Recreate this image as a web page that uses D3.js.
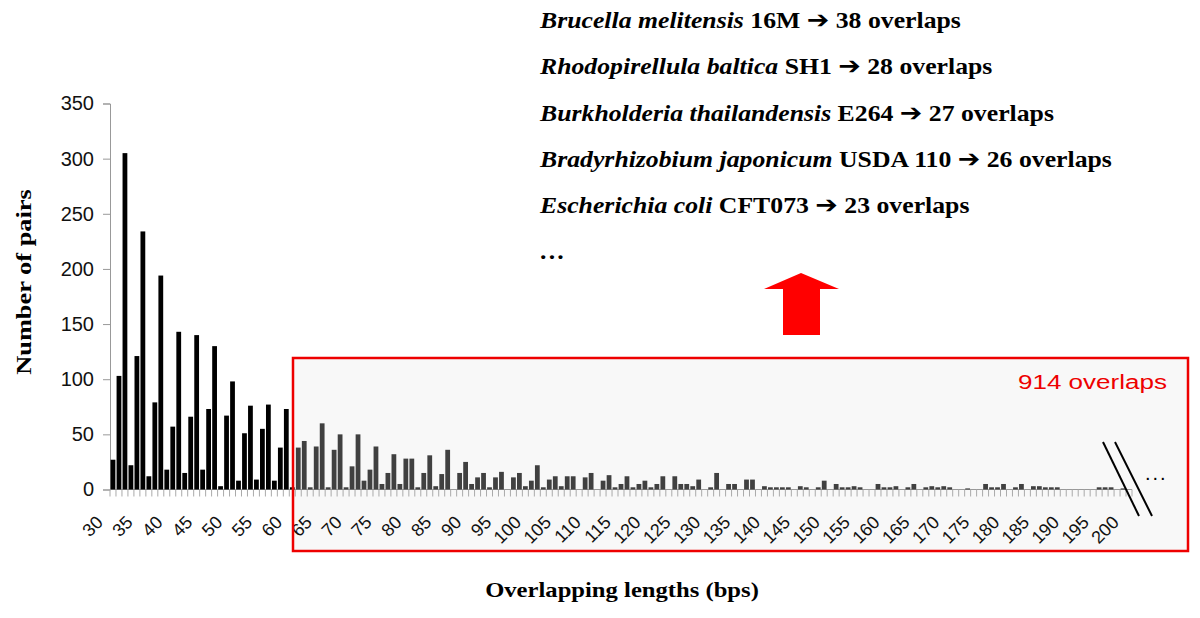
<!DOCTYPE html>
<html>
<head>
<meta charset="utf-8">
<script src="https://cdn.jsdelivr.net/npm/d3@7"></script>
<style>
  body { margin: 0; background: #fff; }
  svg { display: block; }
  .tick text { fill: #111; }
</style>
</head>
<body>
<div id="chart"></div>
<script>
// data
var lengths = d3.range(30, 201);
var pairs = [
  27, 103, 305, 22, 121, 234, 12, 79, 194, 18,      // 30-39
  57, 143, 15, 66, 140, 18, 73, 130, 3, 67,         // 40-49
  98, 8, 51, 76, 9, 55, 77, 8, 38, 73,              // 50-59
  2, 38, 44, 2, 39, 60, 2, 36, 50, 2,               // 60-69
  21, 50, 8, 18, 39, 5, 15, 32, 5, 28,              // 70-79
  28, 2, 15, 31, 3, 14, 36, 0, 15, 25,              // 80-89
  5, 11, 15, 2, 11, 16, 0, 11, 15, 3,               // 90-99
  8, 22, 2, 9, 12, 3, 12, 12, 0, 11,                // 100-109
  15, 0, 8, 13, 2, 5, 12, 2, 5, 8,                  // 110-119
  2, 5, 12, 0, 12, 5, 5, 3, 9, 0,                   // 120-129
  2, 15, 0, 5, 5, 0, 9, 9, 0, 3,                    // 130-139
  2, 2, 2, 2, 0, 3, 2, 0, 2, 8,                     // 140-149
  0, 5, 2, 2, 3, 2, 0, 0, 5, 2,                     // 150-159
  2, 3, 0, 2, 5, 0, 2, 3, 2, 3,                     // 160-169
  2, 0, 0, 1, 0, 0, 5, 2, 2, 5,                     // 170-179
  0, 2, 5, 0, 3, 3, 2, 2, 2, 0,                     // 180-189
  0, 0, 0, 0, 0, 2, 2, 2, 0, 1,                     // 190-199
  0                                                 // 200
];
var yTicks = [0, 50, 100, 150, 200, 250, 300, 350];
var labelTicks = lengths.filter(d => d % 5 === 0);
var highlightFrom = 61;

var genomes = [
  {species: 'Brucella melitensis', strain: '16M', count: 38},
  {species: 'Rhodopirellula baltica', strain: 'SH1', count: 28},
  {species: 'Burkholderia thailandensis', strain: 'E264', count: 27},
  {species: 'Bradyrhizobium japonicum', strain: 'USDA 110', count: 26},
  {species: 'Escherichia coli', strain: 'CFT073', count: 23}
];
var boxLabel = '914 overlaps';

// constants
const WIDTH = 1200;
const HEIGHT = 618;
const X0 = 110, X1 = 1132;
const Y0 = 489.5, Y1 = 103.5;
const SERIF = 'Liberation Serif, Times New Roman, serif';
const SANS = 'Liberation Sans, Arial, sans-serif';

// the figure text is a bit wider than it is tall, stretch it around its x anchor
function stretch(x, sx) {
  return 'translate(' + x + ',0) scale(' + sx + ',1) translate(' + (-x) + ',0)';
}

var svg = d3.select('#chart').append('svg')
            .attr('width', WIDTH)
            .attr('height', HEIGHT);

var x = d3.scaleBand()
          .domain(lengths)
          .range([X0, X1])
          .paddingInner(0.2)
          .paddingOuter(0.1);

var y = d3.scaleLinear()
          .domain([0, 350])
          .range([Y0, Y1]);

// highlighted region (fill first, outline goes on top later)
svg.append('rect')
   .attr('x', 293)
   .attr('y', 358)
   .attr('width', 895)
   .attr('height', 193)
   .attr('fill', '#f8f8f8');

// y axis
var yAxis = svg.append('g')
               .attr('transform', 'translate(' + X0 + ',0)')
               .call(d3.axisLeft(y).tickValues(yTicks).tickSize(7).tickPadding(9));
yAxis.select('.domain').attr('stroke', '#999');
yAxis.selectAll('.tick line').attr('stroke', '#999');
yAxis.selectAll('.tick text')
     .attr('font-family', SANS)
     .attr('font-size', 20);

// x axis: boundary ticks between every category
var half = x.step() * x.paddingInner() / 2;
var bounds = lengths.map(d => x(d) - half).concat([x(200) + x.bandwidth() + half]);
var xAxis = svg.append('g')
               .attr('transform', 'translate(0,' + Y0 + ')');
xAxis.append('line')
     .attr('x1', X0)
     .attr('x2', X1)
     .attr('stroke', '#999');
xAxis.selectAll('line.bound').data(bounds)
     .enter()
     .append('line')
     .classed('bound', true)
     .attr('x1', d => d)
     .attr('x2', d => d)
     .attr('y1', 0)
     .attr('y2', 7)
     .attr('stroke', '#aaa');

// rotated labels every 5 bps
var xLabels = svg.append('g')
                 .attr('transform', 'translate(-9,' + (Y0 + 34) + ')')
                 .call(d3.axisBottom(x).tickValues(labelTicks).tickSize(0).tickPadding(0));
xLabels.select('.domain').remove();
xLabels.selectAll('.tick text')
       .attr('font-family', SANS)
       .attr('font-size', 18)
       .attr('fill', d => d >= 65 ? '#444' : '#111')
       .attr('text-anchor', 'end')
       .attr('dy', 0)
       .attr('transform', 'rotate(-45)');

// bars
svg.append('g').selectAll('rect')
   .data(lengths.map((d, i) => ({len: d, n: pairs[i]})).filter(d => d.n > 0))
   .enter()
   .append('rect')
   .attr('x', d => x(d.len))
   .attr('width', x.bandwidth())
   .attr('y', d => y(d.n))
   .attr('height', d => Y0 - y(d.n))
   .attr('fill', d => d.len >= highlightFrom ? '#404040' : '#000');

// outline of highlighted region
svg.append('rect')
   .attr('x', 293)
   .attr('y', 358)
   .attr('width', 895)
   .attr('height', 193)
   .attr('fill', 'none')
   .attr('stroke', '#e00')
   .attr('stroke-width', 2.5);

svg.append('text')
   .attr('x', 1167)
   .attr('y', 389)
   .attr('text-anchor', 'end')
   .attr('transform', stretch(1167, 1.24))
   .attr('font-family', SANS)
   .attr('font-size', 21)
   .attr('fill', '#e00')
   .text(boxLabel);

// axis break marks
svg.append('line').attr('x1', 1103).attr('y1', 442).attr('x2', 1139).attr('y2', 516)
   .attr('stroke', '#000').attr('stroke-width', 2);
svg.append('line').attr('x1', 1115).attr('y1', 442).attr('x2', 1152).attr('y2', 516)
   .attr('stroke', '#000').attr('stroke-width', 2);
svg.append('text')
   .attr('x', 1145)
   .attr('y', 480)
   .attr('font-family', SANS)
   .attr('font-size', 20)
   .attr('letter-spacing', 2)
   .text('...');

// axis titles
svg.append('text')
   .attr('transform', 'translate(31,282) rotate(-90) scale(1.2,1)')
   .attr('text-anchor', 'middle')
   .attr('font-family', SERIF)
   .attr('font-weight', 'bold')
   .attr('font-size', 22)
   .text('Number of pairs');

svg.append('text')
   .attr('x', 622)
   .attr('y', 597)
   .attr('text-anchor', 'middle')
   .attr('transform', stretch(622, 1.12))
   .attr('font-family', SERIF)
   .attr('font-weight', 'bold')
   .attr('font-size', 22)
   .text('Overlapping lengths (bps)');

// list of genomes with most overlaps
var list = svg.append('g')
              .attr('transform', stretch(540, 1.12))
              .attr('font-family', SERIF)
              .attr('font-weight', 'bold')
              .attr('font-size', 23);

var rows = list.selectAll('text').data(genomes)
               .enter()
               .append('text')
               .attr('x', 540)
               .attr('y', (d, i) => 28 + i * 46.3);
rows.append('tspan').attr('font-style', 'italic').text(d => d.species);
rows.append('tspan').text(d => ' ' + d.strain + ' ');
rows.append('tspan').attr('font-family', 'DejaVu Sans, sans-serif').attr('font-size', 24).text('\u2794');
rows.append('tspan').text(d => ' ' + d.count + ' overlaps');

list.append('text')
    .attr('x', 540)
    .attr('y', 259)
    .attr('letter-spacing', 2)
    .text('...');

// red arrow pointing up to the list
var arrowPts = [[801, 273], [839, 289], [820, 289], [820, 335], [783, 335], [783, 289], [764, 289]];
svg.append('path')
   .attr('d', d3.line()(arrowPts) + 'Z')
   .attr('fill', '#f00');
</script>
</body>
</html>
